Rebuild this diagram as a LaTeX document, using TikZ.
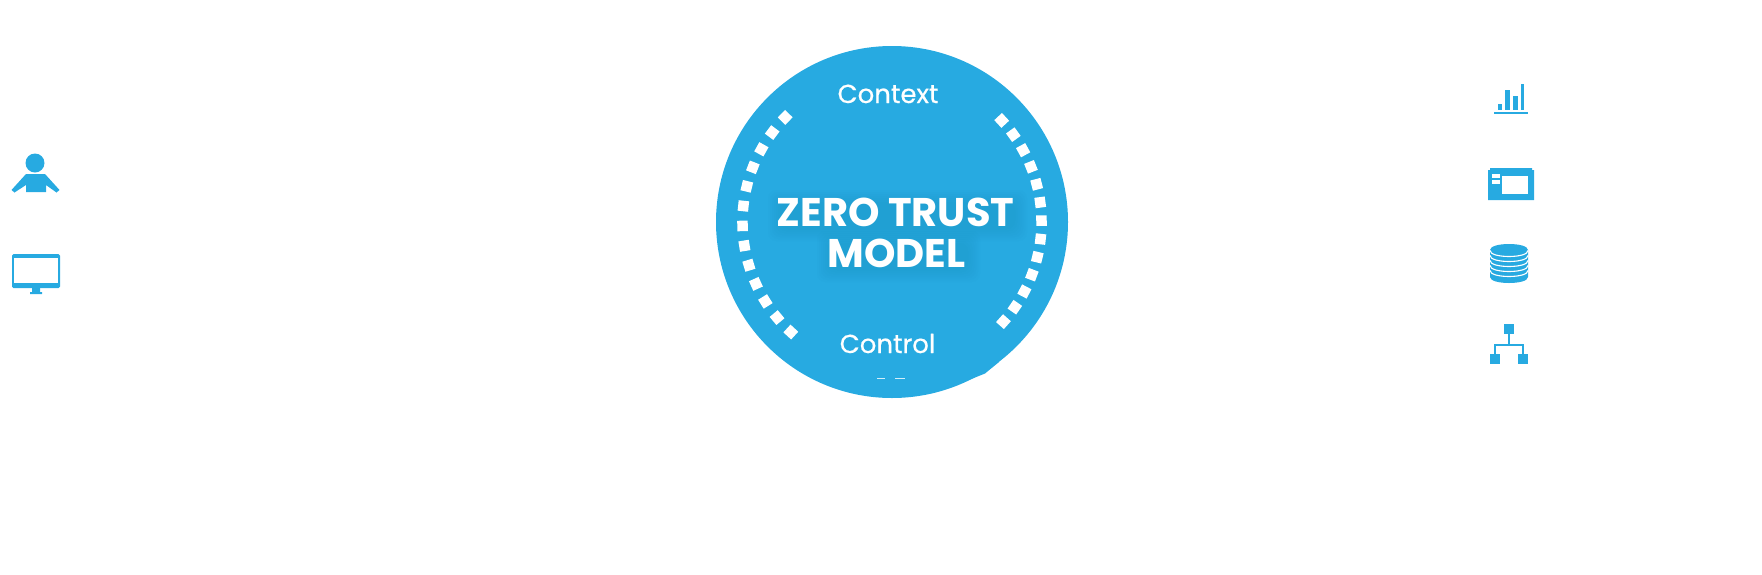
\documentclass[tikz,border=0pt]{standalone}
\usepackage{fontspec}
\setmainfont{Poppins}
\definecolor{ztblue}{HTML}{27AAE1}
\definecolor{ztshadow}{HTML}{14658A}
\tikzset{
  x=1pt,y=-1pt,
  dotmark/.style={fill=white,draw=none,minimum size=10.5pt,inner sep=0pt,rectangle},
  ringlabel/.style={text=white,anchor=base,inner sep=0pt,font=\fontsize{26}{26}\selectfont\addfontfeature{FakeBold=0.5}},
  titletext/.style={text=white,anchor=base,inner sep=0pt,font=\fontsize{40}{40}\selectfont\bfseries},
  halo/.style={fill=ztshadow,opacity=.014,rounded corners=8pt},
}
\begin{document}
\begin{tikzpicture}
\useasboundingbox (0,0) rectangle (1762,574);
% badge
\fill[ztblue] (892,222) circle[radius=176];
\fill[ztblue] (960,383.5) -- (985,373.5) -- (999,362) -- (990,350) -- cycle;
% dotted arcs
\foreach \i in {0,...,12}{
  \pgfmathsetmacro{\a}{135.6+7.65*\i}
  \node[dotmark,rotate=\a] (dl\i) at ({892+149.5*cos(\a)},{222-149.5*sin(\a)}) {};
  \pgfmathsetmacro{\b}{42.8-7.05*\i}
  \node[dotmark,rotate=\b] (dr\i) at ({892+149.5*cos(\b)},{222-149.5*sin(\b)}) {};
}
% soft shadow behind the title
\foreach \g in {-2,0,2,4,6,8,10}{
  \fill[halo] (778-\g,200-\g) rectangle (1017+\g,231+\g);
  \fill[halo] (827-\g,241-\g) rectangle (970+\g,272+\g);
}
% labels
\node[ringlabel] (context) at (888,103) {Context};
\node[ringlabel] (control) at (887.5,353) {Control};
\node[titletext] (zerotrust) at (895.5,226.5) {ZERO TRUST};
\node[titletext] (model) at (896.5,267.5) {MODEL};
% clipped specks
\fill[white,opacity=.8] (877,378) rectangle (885,379);
\fill[white,opacity=.8] (895,378) rectangle (905,379);
% person
\fill[ztblue] (35,163) circle[radius=9.5];
\fill[ztblue] (26,174) -- (45,174) -- (59.5,190) -- (56.5,192.5) -- (46,185) -- (46,192) -- (26,192) -- (26,185) -- (14.5,192.5) -- (11.5,190) -- cycle;
% monitor
\fill[ztblue,rounded corners=1.5pt] (12,254) rectangle (60,288);
\fill[white] (14,257.5) rectangle (58,282.5);
\fill[ztblue] (32,288) rectangle (40,292) (30,292) rectangle (42,294);
% bars
\fill[ztblue] (1498,104) rectangle (1502,110);
\fill[ztblue] (1505,90) rectangle (1510,110);
\fill[ztblue] (1513,96) rectangle (1518,110);
\fill[ztblue] (1520.7,84) rectangle (1524,110);
\fill[ztblue] (1494,112) rectangle (1528,114);
% window
\fill[ztblue] (1488,170) -- (1490,170) -- (1490,168) -- (1532,168) -- (1532,170) -- (1534,170) -- (1534,200) -- (1488,200) -- cycle;
\fill[white] (1502,176) rectangle (1528,194);
\fill[white] (1492,174) rectangle (1500,178);
\fill[white] (1492,180) rectangle (1500,184);
% database
\fill[ztblue] (1490,250) .. controls (1490,242) and (1528,242) .. (1528,250) -- (1528,277) .. controls (1528,285) and (1490,285) .. (1490,277) -- cycle;
\foreach \y in {250.5,255.5,260.5,265.5,270.5}{
  \draw[white,line width=1.1pt] (1490,\y) .. controls (1490,\y+8) and (1528,\y+8) .. (1528,\y);
}
% hierarchy
\fill[ztblue] (1504,324) rectangle (1514,334);
\fill[ztblue] (1490,354) rectangle (1500,364);
\fill[ztblue] (1518,354) rectangle (1528,364);
\draw[ztblue,line width=2pt] (1509,334) -- (1509,345) (1495,354) -- (1495,345) -- (1523,345) -- (1523,354);
\end{tikzpicture}
\end{document}
